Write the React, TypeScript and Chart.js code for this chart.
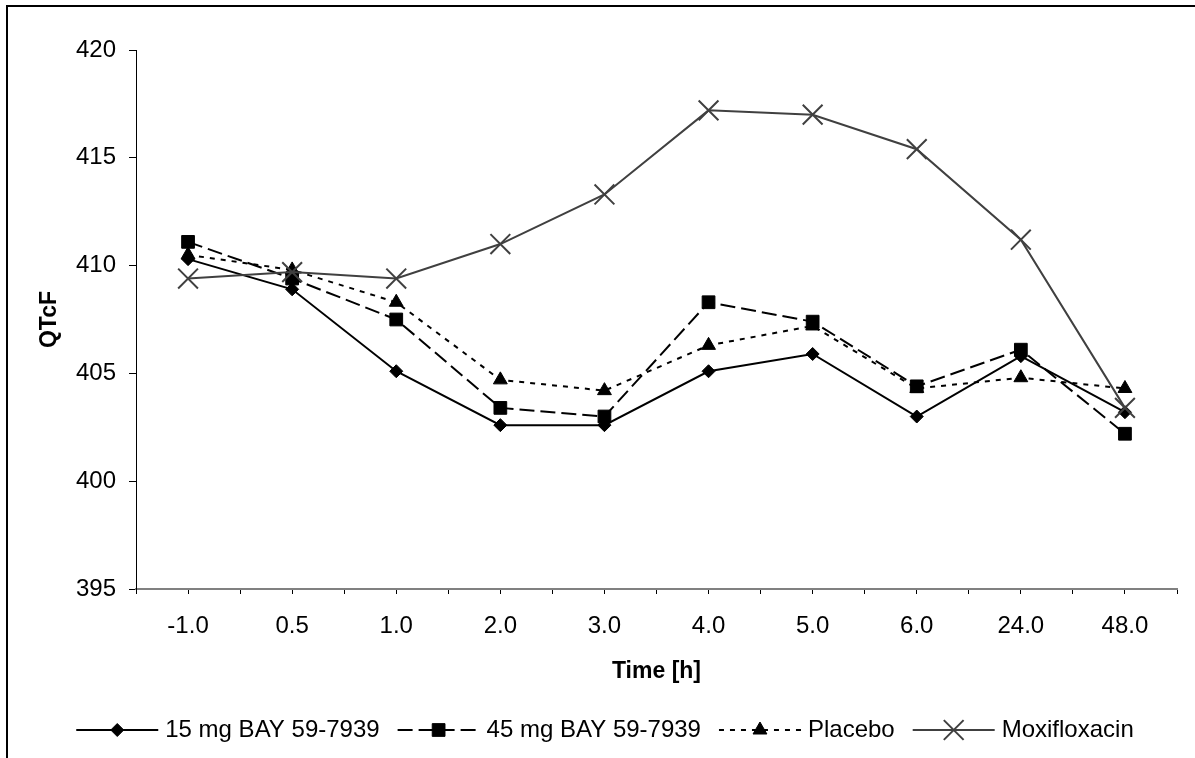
import React, { useEffect, useRef } from 'react';
import { Chart, registerables } from 'chart.js';
import { drawPoint } from 'chart.js/helpers';

Chart.register(...registerables);

// Sampling times (h) shown on the category axis
const timeLabels = ['-1.0', '0.5', '1.0', '2.0', '3.0', '4.0', '5.0', '6.0', '24.0', '48.0'];

// Mean QTcF (ms) per treatment group
const dose15 = [410.3, 408.9, 405.1, 402.6, 402.6, 405.1, 405.9, 403.0, 405.8, 403.2];
const dose45 = [411.1, 409.4, 407.5, 403.4, 403.0, 408.3, 407.4, 404.4, 406.1, 402.2];
const placebo = [410.5, 409.8, 408.3, 404.7, 404.2, 406.3, 407.2, 404.3, 404.8, 404.3];
const moxifloxacin = [409.4, 409.7, 409.4, 411.0, 413.3, 417.2, 417.0, 415.4, 411.2, 403.4];

const seriesNames = ['15 mg BAY 59-7939', '45 mg BAY 59-7939', 'Placebo', 'Moxifloxacin'];

const yMin = 395;
const yMax = 420;
const yStep = 5;

const FONT = '"Liberation Sans", Arial, Helvetica, sans-serif';

const toPoints = (vals: number[]) => vals.map((v, i) => ({ x: i, y: v }));

// Legend drawn as a line sample with the marker in its middle
const lineLegend = {
  id: 'lineLegend',
  afterDraw(chart: any) {
    const ctx: CanvasRenderingContext2D = chart.ctx;
    const y = 730;
    const lineLen = 82;
    const textGap = 7;
    const itemGap = 18;
    ctx.save();
    ctx.font = `24px ${FONT}`;
    const items = chart.data.datasets.map((ds: any) => ({ ds, w: ctx.measureText(ds.label).width }));
    const total =
      items.reduce((s: number, it: any) => s + lineLen + textGap + it.w, 0) + itemGap * (items.length - 1);
    let x = 605 - total / 2;
    for (const { ds, w } of items) {
      ctx.strokeStyle = ds.borderColor;
      ctx.lineWidth = ds.borderWidth;
      ctx.setLineDash(ds.borderDash || []);
      ctx.beginPath();
      ctx.moveTo(x, y);
      ctx.lineTo(x + lineLen, y);
      ctx.stroke();
      ctx.setLineDash([]);
      ctx.fillStyle = ds.pointBackgroundColor;
      ctx.strokeStyle = ds.pointBorderColor;
      ctx.lineWidth = ds.pointBorderWidth;
      drawPoint(
        ctx,
        { pointStyle: ds.pointStyle, radius: ds.pointRadius, borderWidth: ds.pointBorderWidth, rotation: 0 },
        x + lineLen / 2,
        y
      );
      ctx.fillStyle = '#000';
      ctx.textAlign = 'left';
      ctx.textBaseline = 'middle';
      ctx.fillText(ds.label, x + lineLen + textGap, y);
      x += lineLen + textGap + w + itemGap;
    }
    ctx.restore();
  },
};

export default function App() {
  const canvasRef = useRef<HTMLCanvasElement | null>(null);

  useEffect(() => {
    if (!canvasRef.current) return;
    const chart = new Chart(canvasRef.current, {
      type: 'line',
      data: {
        datasets: [
          {
            label: seriesNames[0],
            data: toPoints(dose15),
            borderColor: '#000',
            borderWidth: 2,
            pointStyle: 'rectRot',
            pointRadius: 6.5,
            pointBackgroundColor: '#000',
            pointBorderColor: '#000',
            pointBorderWidth: 1,
            order: 3,
          },
          {
            label: seriesNames[1],
            data: toPoints(dose45),
            borderColor: '#000',
            borderWidth: 2,
            borderDash: [15, 6],
            pointStyle: 'rect',
            pointRadius: 9,
            pointBackgroundColor: '#000',
            pointBorderColor: '#000',
            pointBorderWidth: 1,
            order: 2,
          },
          {
            label: seriesNames[2],
            data: toPoints(placebo),
            borderColor: '#000',
            borderWidth: 2,
            borderDash: [5, 6],
            pointStyle: 'triangle',
            pointRadius: 8,
            pointBackgroundColor: '#000',
            pointBorderColor: '#000',
            pointBorderWidth: 1,
            order: 1,
          },
          {
            label: seriesNames[3],
            data: toPoints(moxifloxacin),
            borderColor: '#404040',
            borderWidth: 2,
            pointStyle: 'crossRot',
            pointRadius: 14,
            pointBackgroundColor: '#404040',
            pointBorderColor: '#404040',
            pointBorderWidth: 2,
            order: 0,
          },
        ] as any,
      },
      options: {
        animation: false,
        responsive: false,
        devicePixelRatio: 1,
        layout: { padding: { top: 50, right: 15, bottom: 69, left: 0 } },
        plugins: {
          legend: { display: false },
          tooltip: { enabled: false },
        },
        elements: { line: { tension: 0 } },
        scales: {
          x: {
            type: 'linear',
            min: -0.5,
            max: timeLabels.length - 0.5,
            afterFit: (s: any) => {
              s.height = 100;
            },
            ticks: {
              stepSize: 0.5,
              autoSkip: false,
              maxRotation: 0,
              padding: 18,
              color: '#000',
              font: { family: FONT, size: 24 },
              callback: (v: any) => {
                const n = Number(v);
                return Number.isInteger(n) ? timeLabels[n] ?? '' : '';
              },
            },
            grid: { drawOnChartArea: false, drawTicks: true, tickLength: 5, color: '#000', lineWidth: 1 },
            border: { color: '#808080', width: 2 },
            title: {
              display: true,
              text: 'Time [h]',
              color: '#000',
              font: { family: FONT, size: 23, weight: 'bold' },
              padding: { top: 0, bottom: 4 },
            },
          },
          y: {
            min: yMin,
            max: yMax,
            afterFit: (s: any) => {
              s.width = 136;
            },
            ticks: {
              stepSize: yStep,
              padding: 13,
              color: '#000',
              font: { family: FONT, size: 24 },
            },
            grid: { drawOnChartArea: false, drawTicks: true, tickLength: 7, color: '#000', lineWidth: 1 },
            border: { color: '#000', width: 1 },
            title: {
              display: true,
              text: 'QTcF',
              color: '#000',
              font: { family: FONT, size: 23, weight: 'bold' },
              padding: { top: 36, bottom: 0 },
            },
          },
        },
      } as any,
      plugins: [lineLegend],
    });
    return () => chart.destroy();
  }, []);

  return (
    <div style={{ position: 'absolute', left: 0, top: 0, width: 1195, height: 758, overflow: 'hidden', background: '#fff' }}>
      <div
        style={{
          position: 'absolute',
          left: 6,
          top: 5,
          width: 1300,
          height: 900,
          border: '2px solid #000',
          boxSizing: 'border-box',
        }}
      />
      <canvas ref={canvasRef} width={1195} height={758} style={{ position: 'absolute', left: 0, top: 0 }} />
    </div>
  );
}
